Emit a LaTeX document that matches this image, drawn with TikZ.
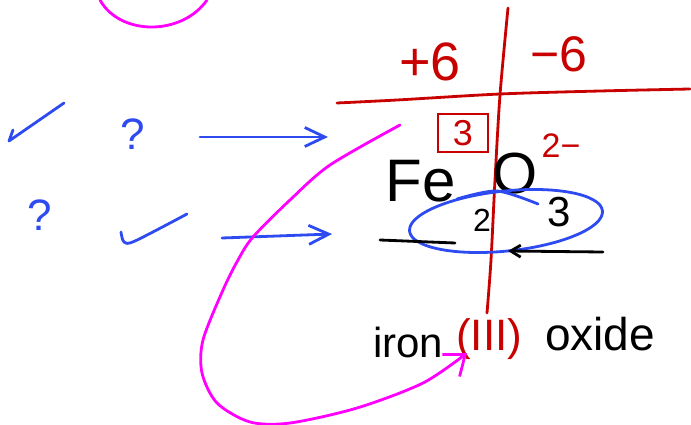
\documentclass[tikz,border=0pt]{standalone}
\usepackage{fontspec}
\setmainfont{Liberation Sans}
\usetikzlibrary{arrows.meta}
\definecolor{inkred}{RGB}{200,0,0}
\definecolor{inkblue}{RGB}{45,75,240}
\definecolor{inkpink}{RGB}{255,0,255}
\newcommand{\handsize}[1]{\fontsize{#1}{#1}\selectfont}

\begin{document}
\begin{tikzpicture}[
    x=1pt, y=-1pt,
    >={Straight Barb[length=20pt,width=19pt]},
    ink/.style={line width=2.8pt, line cap=round, line join=round},
    redink/.style={ink, draw=inkred},
    blueink/.style={ink, draw=inkblue},
    pinkink/.style={ink, draw=inkpink},
    blackink/.style={ink, draw=black},
    hand/.style={inner sep=0pt, font=\handsize{#1}},
    hand/.default=44
]
    \useasboundingbox[fill=white] (0,0) rectangle (691,425);

    % magenta arc at the top
    \draw[pinkink] (100,0) .. controls (120,36) and (182,36) .. (207,0);

    % red cross of charges
    \draw[redink] plot[smooth] coordinates {(508,8) (500,95) (495,180) (491,260) (487,313)};
    \draw[redink] plot[smooth] coordinates {(337,103) (397,100) (500,94) (600,91) (690,89)};
    \node[hand=54, text=inkred] (plus) at (430,62) {+6};
    \node[hand=50, text=inkred] (minus) at (559,54) {−6};

    % formula
    \node[hand=60] (fe) at (421,181) {Fe};
    \node[hand=58] (ox) at (515,174) {O};
    \node[hand=32] (sub2) at (482,220) {2};
    \node[hand=42] (sub3) at (559,212) {3};
    \node[hand=36, text=inkred, draw=inkred, line width=2.4pt,
          minimum width=50pt, minimum height=38pt] (charge) at (463,133) {3};
    \node[hand=34, text=inkred] (anion) at (561,146) {2−};

    \draw[blueink, rotate around={6:(506,221)}] (506,221) ellipse [x radius=97, y radius=30];
    \draw[blueink] plot[smooth] coordinates {(457,199) (497,191) (538,204)};

    \coordinate (ul1) at (380,240);
    \coordinate (ul2) at (455,243);
    \draw[blackink] (ul1) -- (ul2);
    \coordinate (ar1) at (603,252);
    \coordinate (ar2) at (508,251);
    \draw[blackink, ->, >={Straight Barb[length=10pt,width=12pt]}] (ar1) -- (ar2);

    % name
    \node[hand=42, anchor=base west] (iron) at (373,357) {iron};
    \node[hand=44, anchor=base west, text=inkred] (roman) at (456,350) {(III)};
    \node[hand=46, anchor=base west] (oxide) at (545,350) {oxide};

    % blue checks and arrows
    \draw[blueink] (13,130) -- (9,141) -- (64,103);
    \node[hand=44, text=inkblue] (q1) at (133,134) {?};
    \coordinate (a1) at (200,137);
    \coordinate (b1) at (328,137);
    \draw[blueink, ->] (a1) -- (b1);

    \node[hand=44, text=inkblue] (q2) at (40,215) {?};
    \draw[blueink] plot[smooth] coordinates {(121,232) (124,242) (135,241) (187,214)};
    \coordinate (a2) at (222,238);
    \coordinate (b2) at (332,234);
    \draw[blueink, ->] (a2) -- (b2);

    % magenta arrow from the box to the roman numeral
    \coordinate (m1) at (400,125);
    \coordinate (m2) at (467,353);
    \draw[pinkink, ->, >={Straight Barb[length=18pt,width=28pt]}]
        plot[smooth] coordinates {(m1) (330,165) (290,200) (253,237) (238,260) (223,290)
        (203,340) (202,373) (217,403) (250,422) (290,423) (357,408) (423,383) (m2)};
\end{tikzpicture}
\end{document}
